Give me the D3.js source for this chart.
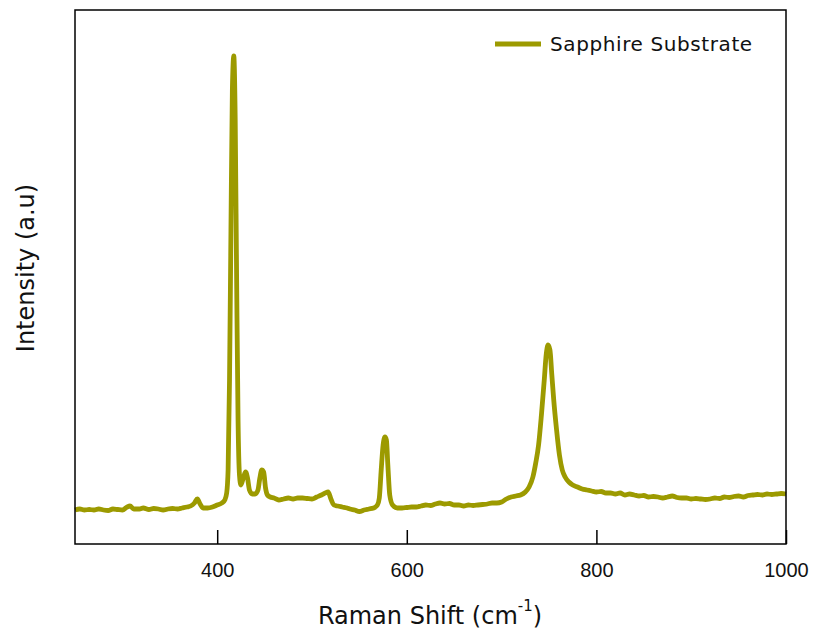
<!DOCTYPE html>
<html lang="en">
<head>
	<meta charset="UTF-8">
	<title>Raman</title>
	<script src="https://d3js.org/d3.v7.min.js"></script>
	<style>
		body {
			margin: 0;
			background-color: white;
		}
		svg {
			display: block;
			background-color: white;
			font-family: "DejaVu Sans", sans-serif;
		}
		.axis path,
		.axis line {
			fill: none;
			stroke: black;
			stroke-width: 1.5;
		}
		.axis text {
			font-size: 20px;
			fill: #111;
		}
	</style>
</head>
<body>
	<script>
		// raman shift (cm-1) and intensity (a.u.)
		var shift = [250,255,260,265,270,275,280,285,290,295,300,305,308,312,318,322,328,333,338,343,348,353,358,363,368,372,376,379,382,385,390,395,400,405,408,410,411.5,413,414.5,416,417.5,419,420.5,422,423.5,425,427.5,430,432,434,437,440,443,445,447,449,451,453,456,460,465,470,475,480,485,490,495,500,505,510,514,517,520,523,527,532,537,540,545,550,555,560,565,569,571,573,575,577,578.5,580,582,585,590,595,600,605,610,615,620,625,630,635,640,645,650,655,660,665,670,675,680,685,690,695,700,705,710,715,720,725,729,733,736,739,742,745,747,749,751,753,755,758,761,764,767,771,775,780,785,790,795,800,805,810,815,820,825,830,835,840,845,850,855,860,865,870,875,880,885,890,895,900,905,910,915,920,925,930,935,940,945,950,955,960,965,970,975,980,985,990,995,1000];
		var intensity = [340,350,340,345,340,350,340,335,350,345,340,370,380,350,350,360,345,355,350,340,350,355,350,360,370,380,410,450,400,360,360,370,390,410,440,510,740,1640,3140,4540,4880,4240,2640,1240,690,590,660,720,660,540,500,500,540,660,740,720,560,490,470,460,440,450,460,450,460,460,455,450,470,490,510,520,450,390,380,370,360,350,340,325,340,350,360,390,460,740,990,1070,1040,790,490,390,360,360,365,370,370,380,390,385,400,410,400,405,390,390,380,390,385,390,395,400,410,410,420,450,470,480,490,520,570,670,810,990,1290,1640,1890,1990,1940,1690,1440,1140,890,740,670,620,590,570,550,540,530,520,525,510,510,500,510,490,500,490,480,485,470,475,470,460,470,480,465,460,460,450,455,450,445,450,460,455,470,465,475,480,470,485,490,495,490,500,495,500,505,500];
		var xTicks = [400, 600, 800, 1000];
		var seriesName = 'Sapphire Substrate';

		var data = shift.map(function (d, i) {
			return {x: d, y: intensity[i]};
		});

		var W = 820, H = 634;
		var margin = {top: 10, right: 34, bottom: 90, left: 75};
		var width = W - margin.left - margin.right,
			height = H - margin.top - margin.bottom;

		var svg = d3.select('body')
			.append('svg')
			.attr('width', W)
			.attr('height', H);

		var g = svg.append('g')
			.attr('transform', 'translate(' + margin.left + ',' + margin.top + ')');

		var x = d3.scaleLinear().domain([250, 1000]).range([0, width]);
		var y = d3.scaleLinear().domain([0, 5340]).range([height, 0]);

		var lineColor = '#9c9a00';

		var line = d3.line()
			.x(function (d) { return x(d.x); })
			.y(function (d) { return y(d.y); })
			.curve(d3.curveMonotoneX);

		g.append('path')
			.datum(data)
			.attr('fill', 'none')
			.attr('stroke', lineColor)
			.attr('stroke-width', 4.8)
			.attr('stroke-linejoin', 'round')
			.attr('d', line);

		// frame
		g.append('rect')
			.attr('width', width)
			.attr('height', height)
			.attr('fill', 'none')
			.attr('stroke', 'black')
			.attr('stroke-width', 1.5);

		var xAxis = g.append('g')
			.attr('class', 'axis')
			.attr('transform', 'translate(0,' + height + ')')
			.call(d3.axisBottom(x).tickValues(xTicks).tickFormat(d3.format('d'))
				.tickSizeInner(-14).tickSizeOuter(0).tickPadding(19));
		xAxis.select('.domain').remove();

		// x label
		var xl = svg.append('text')
			.attr('x', 430)
			.attr('y', 624)
			.attr('text-anchor', 'middle')
			.attr('font-size', 24)
			.attr('fill', '#111');
		xl.append('tspan').text('Raman Shift (cm');
		xl.append('tspan').attr('font-size', 15).attr('dy', -13).text('-1');
		xl.append('tspan').attr('dy', 13).text(')');

		// y label
		svg.append('text')
			.attr('transform', 'translate(34,268) rotate(-90)')
			.attr('text-anchor', 'middle')
			.attr('font-size', 24)
			.attr('fill', '#111')
			.text('Intensity (a.u)');

		// legend
		var lg = svg.append('g').attr('transform', 'translate(495,44)');
		lg.append('line')
			.attr('x1', 0).attr('x2', 46)
			.attr('stroke', lineColor)
			.attr('stroke-width', 4.8);
		lg.append('text')
			.attr('x', 55)
			.attr('y', 7)
			.attr('font-size', 20)
			.attr('letter-spacing', 0.6)
			.attr('fill', '#111')
			.text(seriesName);
	</script>
</body>
</html>
